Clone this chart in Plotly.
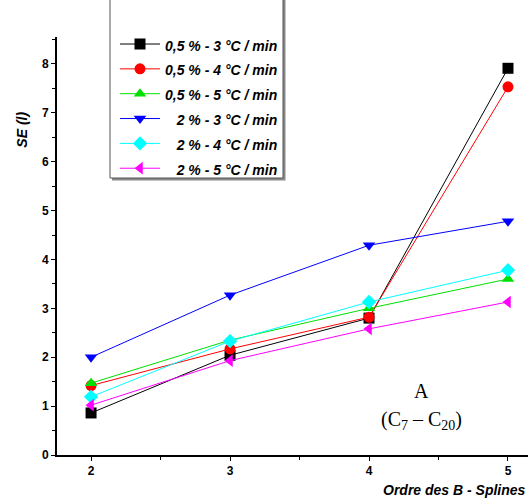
import plotly.graph_objects as go

orders = [2, 3, 4, 5]
se_05_3 = [0.86, 2.04, 2.80, 7.91]
se_05_4 = [1.42, 2.17, 2.82, 7.53]
se_05_5 = [1.47, 2.35, 3.00, 3.60]
se_2_3 = [2.00, 3.27, 4.29, 4.78]
se_2_4 = [1.19, 2.33, 3.13, 3.78]
se_2_5 = [1.02, 1.93, 2.58, 3.13]

labels = ["0,5 % - 3 °C / min", "0,5 % - 4 °C / min", "0,5 % - 5 °C / min",
          "\u00a0\u00a0\u00a02 % - 3 °C / min", "\u00a0\u00a0\u00a02 % - 4 °C / min",
          "\u00a0\u00a0\u00a02 % - 5 °C / min"]
series = [se_05_3, se_05_4, se_05_5, se_2_3, se_2_4, se_2_5]
colors = ["#000000", "#ff0000", "#00e000", "#0000ff", "#00ffff", "#ff00ff"]
symbols = ["square", "circle", "triangle-up", "triangle-down", "diamond", "triangle-left"]

fig = go.Figure()
for n, s, c, m in zip(labels, series, colors, symbols):
    fig.add_trace(go.Scatter(x=orders, y=s, name='<span style="font-size:14px">' + n + '</span>',
                             mode="lines+markers",
                             line=dict(color=c, width=1),
                             marker=dict(symbol=m, size=11, color=c)))

# plot area: x 57..528 px, y 37..455 px
def px_x(p):
    return (p - 57) / 471.0

def px_y(p):
    return (455 - p) / 418.0

tickfont = dict(family="Liberation Sans, Arial", size=12, color="black", weight="bold")
fig.update_layout(
    width=530, height=504,
    margin=dict(l=57, r=2, t=37, b=49, autoexpand=False),
    paper_bgcolor="white", plot_bgcolor="white",
    showlegend=True,
    legend=dict(x=px_x(115), y=px_y(26.6), xanchor="left", yanchor="top",
                bgcolor="rgba(0,0,0,0)", borderwidth=0,
                itemwidth=40,
                font=dict(family="Liberation Sans, Arial", size=16.8, color="black",
                          weight="bold", style="italic"),
                tracegroupgap=0),
    xaxis=dict(range=[1.755, 5.144], tickvals=[2, 3, 4, 5], showgrid=False, zeroline=False,
               showline=True, linecolor="black", linewidth=2, ticks="outside", ticklen=4,
               tickcolor="black", tickfont=tickfont,
               minor=dict(tickvals=[2.5, 3.5, 4.5], ticks="outside", ticklen=3, tickcolor="black")),
    yaxis=dict(range=[0, 8.55], tickvals=list(range(0, 9)), showgrid=False, zeroline=False,
               showline=True, linecolor="black", linewidth=2, ticks="outside", ticklen=4,
               tickcolor="black", tickfont=tickfont,
               minor=dict(tickvals=[i + 0.5 for i in range(0, 9)], ticks="outside", ticklen=3,
                          tickcolor="black")),
)

# legend frame with drop shadow (top edge runs off the top of the picture)
fig.add_shape(type="rect", xref="paper", yref="paper", layer="above",
              x0=px_x(112), x1=px_x(285.5), y0=px_y(180.5), y1=px_y(-5),
              fillcolor="#8a8a8a", line=dict(width=0))
fig.add_shape(type="rect", xref="paper", yref="paper", layer="above",
              x0=px_x(110), x1=px_x(283), y0=px_y(178), y1=px_y(-5),
              fillcolor="white", line=dict(color="#555555", width=1))

fig.add_annotation(x=-0.075, y=px_y(130), xref="paper", yref="paper", text="SE (l)",
                   showarrow=False, textangle=-90, xanchor="center", yanchor="middle",
                   font=dict(family="Liberation Sans, Arial", size=14, color="black",
                             weight="bold", style="italic"))
fig.add_annotation(x=px_x(528), y=0, xref="paper", yref="paper", xanchor="right", yanchor="middle",
                   text="Ordre des B - Splines", showarrow=False, yshift=-35,
                   font=dict(family="Liberation Sans, Arial", size=14, color="black",
                             weight="bold", style="italic"))
fig.add_annotation(x=4.38, y=1.3, text="A", showarrow=False,
                   font=dict(family="Liberation Serif, Times New Roman", size=20, color="black"))
fig.add_annotation(x=4.38, y=0.7, text="(C<sub>7</sub> – C<sub>20</sub>)", showarrow=False,
                   font=dict(family="Liberation Serif, Times New Roman", size=20, color="black"))

fig.write_html("out.html", config={"displayModeBar": False},
               post_script="document.body.style.margin='0px';")
